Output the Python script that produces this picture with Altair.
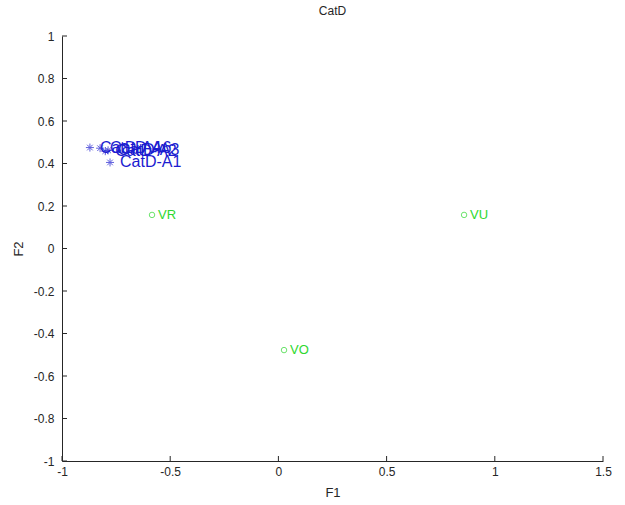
import altair as alt
import pandas as pd

# Blue (CatD) points
cat_names = ["CatD-A4", "CatD-A6", "CatD-A2", "CatD-A3", "CatD-A1"]
cat_x = [-0.871, -0.824, -0.800, -0.787, -0.778]
cat_y = [0.475, 0.472, 0.458, 0.462, 0.405]

# Green (V) points
v_names = ["VR", "VU", "VO"]
v_x = [-0.584, 0.858, 0.026]
v_y = [0.158, 0.158, -0.478]

x_ticks = [-1, -0.5, 0, 0.5, 1, 1.5]
y_ticks = [-1, -0.8, -0.6, -0.4, -0.2, 0, 0.2, 0.4, 0.6, 0.8, 1]

W, H = 541, 425
FONT = "Liberation Sans"
BLUE = "#1c1cd0"
GREEN = "#2ed82e"
AXC = "#262626"

cat_df = pd.DataFrame({"F1": cat_x, "F2": cat_y, "name": cat_names})
v_df = pd.DataFrame({"F1": v_x, "F2": v_y, "name": v_names})
xt_df = pd.DataFrame({"v": x_ticks})
yt_df = pd.DataFrame({"v": y_ticks})

xscale = alt.Scale(domain=[-1, 1.5], nice=False, zero=False)
yscale = alt.Scale(domain=[-1, 1], nice=False, zero=False)

xaxis = alt.Axis(values=x_ticks, labelExpr="'' + datum.value", grid=False, ticks=False,
                 domainColor=AXC, labelColor=AXC, labelFont=FONT, labelFontSize=12,
                 labelPadding=5, title="F1", titleFont=FONT, titleFontSize=13,
                 titleFontWeight="normal", titleColor=AXC, titlePadding=9,
                 labelFlush=False)
yaxis = alt.Axis(values=y_ticks, labelExpr="'' + datum.value", grid=False, ticks=False,
                 domainColor=AXC, labelColor=AXC, labelFont=FONT, labelFontSize=12,
                 labelPadding=8, title="F2", titleFont=FONT, titleFontSize=13,
                 titleFontWeight="normal", titleColor=AXC, titlePadding=8,
                 labelFlush=False)

star = "M0,-1L0,1M-1,0L1,0M-0.7,-0.7L0.7,0.7M-0.7,0.7L0.7,-0.7"

base_cat = alt.Chart(cat_df)
cat_pts = base_cat.mark_point(shape=star, filled=False, size=64, stroke=BLUE,
                              strokeWidth=1).encode(
    x=alt.X("F1:Q", scale=xscale, axis=xaxis),
    y=alt.Y("F2:Q", scale=yscale, axis=yaxis),
)
cat_txt = base_cat.mark_text(align="left", baseline="middle", dx=10, font=FONT,
                             fontSize=16, color=BLUE).encode(
    x=alt.X("F1:Q", scale=xscale), y=alt.Y("F2:Q", scale=yscale), text="name:N")

base_v = alt.Chart(v_df)
v_pts = base_v.mark_point(shape="circle", filled=False, size=30, stroke=GREEN,
                          strokeWidth=1).encode(
    x=alt.X("F1:Q", scale=xscale), y=alt.Y("F2:Q", scale=yscale))
v_txt = base_v.mark_text(align="left", baseline="middle", dx=6, font=FONT,
                         fontSize=13, color=GREEN).encode(
    x=alt.X("F1:Q", scale=xscale), y=alt.Y("F2:Q", scale=yscale), text="name:N")

xt = alt.Chart(xt_df).mark_rule(color=AXC).encode(
    x=alt.X("v:Q", scale=xscale), y=alt.value(H), y2=alt.value(H - 5))
yt = alt.Chart(yt_df).mark_rule(color=AXC).encode(
    y=alt.Y("v:Q", scale=yscale), x=alt.value(0), x2=alt.value(5))

chart = alt.layer(xt, yt, cat_pts, cat_txt, v_pts, v_txt).properties(
    width=W, height=H,
    title=alt.TitleParams("CatD", font=FONT, fontSize=12, fontWeight="normal",
                          color=AXC, offset=12, anchor="middle"),
    padding={"left": 62, "top": 36, "right": 22, "bottom": 44},
    autosize=alt.AutoSizeParams(type="none"),
    background="white",
).configure_view(stroke=None)

chart.save("out.html", embed_options={"renderer": "svg", "actions": False})
